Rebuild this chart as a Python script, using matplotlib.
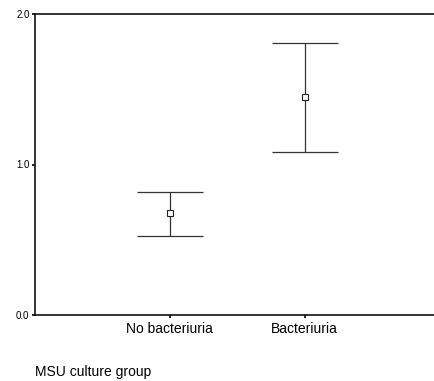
import numpy as np
import matplotlib.pyplot as plt

plt.rcParams['font.family'] = ['Liberation Sans', 'DejaVu Sans']

groups = ['No bacteriuria', 'Bacteriuria']
means = [0.68, 1.45]
lower = [0.525, 1.083]
upper = [0.817, 1.807]

fig = plt.figure(figsize=(4.34, 3.81), dpi=100)
ax = fig.add_axes([35 / 434, 66 / 381, 399 / 434, 301 / 381])

x = np.arange(1, len(groups) + 1)
m = np.array(means)
yerr = [m - np.array(lower), np.array(upper) - m]
ax.errorbar(x, m, yerr=yerr, fmt='none', ecolor='#333333', elinewidth=0.9,
            capsize=24, capthick=0.9)
ax.plot(x, m, 's', ms=4.5, mfc='white', mec='#222222', mew=0.8, zorder=3)

ax.set_xlim(0, 2.96)
ax.set_ylim(0, 2.0)
ax.set_yticks([0.0, 1.0, 2.0])
ax.set_yticklabels(['0.0', '1.0', '2.0'], fontsize=7)
ax.set_xticks(x)
ax.set_xticklabels(groups, fontsize=10)
ax.tick_params(axis='y', length=2, width=1.2, pad=2)
ax.tick_params(axis='x', length=2, width=1.2, pad=3)

ax.spines['right'].set_visible(False)
for s in ['left', 'bottom', 'top']:
    ax.spines[s].set_linewidth(1.2)
    ax.spines[s].set_color('#111111')

fig.text(35 / 434, 1 - 372 / 381, 'MSU culture group', fontsize=10, va='center', ha='left')

fig.savefig('out.png', dpi=100)
